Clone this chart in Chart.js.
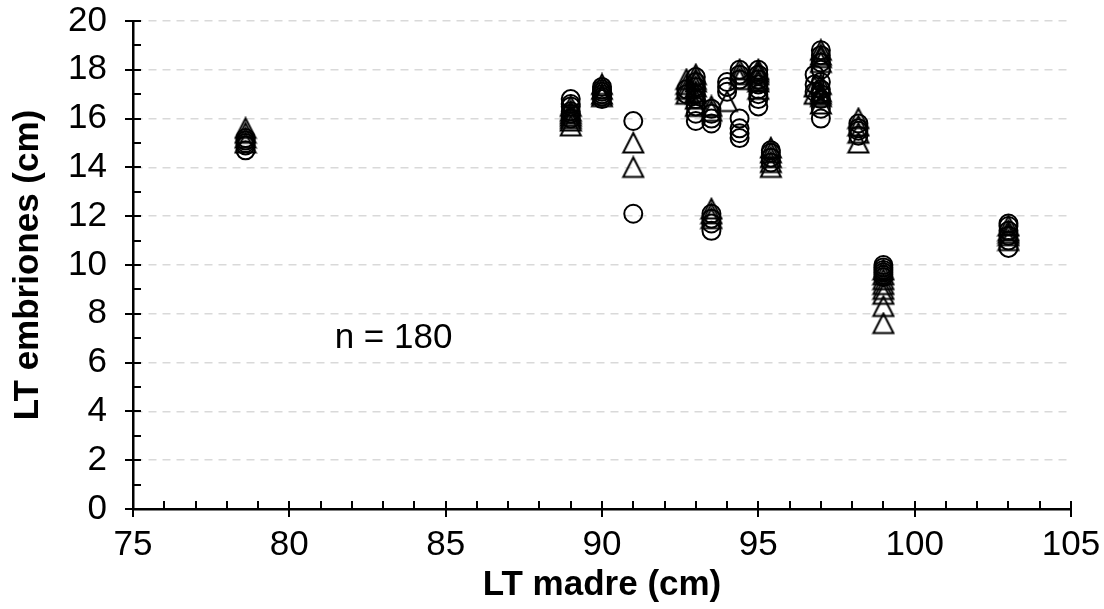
<!DOCTYPE html>
<html>
<head>
<meta charset="utf-8">
<script src="https://cdn.jsdelivr.net/npm/chart.js@4.4.0/dist/chart.umd.min.js"></script>
<style>
  html, body { margin: 0; padding: 0; background: #fff; }
</style>
</head>
<body>
<canvas id="chart" width="1104" height="609"></canvas>
<script>
// LT de la madre (cm) para cada grupo de embriones
const madreLT = [78.6, 89, 90, 91, 92.7, 93, 93.5, 94, 94.4, 95, 95.4, 96.8, 97, 98.2, 99, 103];

// LT de los embriones (cm), un grupo por madre: círculos
const embrionesCirculo = [
  [14.7, 14.9, 15.0, 15.1, 15.2],
  [16.0, 16.2, 16.3, 16.5, 16.6, 16.8],
  [16.8, 16.9, 17.0, 17.1, 17.2, 17.3],
  [15.9, 12.1],
  [17.0, 17.2],
  [15.9, 16.2, 16.5, 16.8, 17.0, 17.3, 17.5, 17.7],
  [15.8, 16.0, 16.2, 16.4, 11.4, 11.7, 11.9, 12.1],
  [17.1, 17.3, 17.5],
  [15.2, 15.4, 15.6, 16.0, 17.6, 17.8, 18.0],
  [16.5, 16.8, 17.0, 17.2, 17.4, 17.6, 17.8, 18.0],
  [14.2, 14.4, 14.6, 14.7],
  [17.1, 17.4, 17.8],
  [16.0, 16.4, 16.8, 17.0, 17.2, 17.5, 18.0, 18.3, 18.6, 18.8],
  [15.3, 15.5, 15.6, 15.8],
  [9.5, 9.6, 9.7, 9.8, 9.9, 10.0],
  [10.7, 11.0, 11.2, 11.4, 11.6, 11.7]
];

// LT de los embriones (cm), un grupo por madre: triángulos
const embrionesTriangulo = [
  [15.0, 15.2, 15.4, 15.6],
  [15.7, 15.9, 16.0, 16.1, 16.2, 16.3, 16.5],
  [16.9, 17.0, 17.2, 17.4],
  [15.0, 14.0],
  [17.0, 17.2, 17.4, 17.6],
  [16.5, 16.8, 17.0, 17.1, 17.3, 17.5, 17.6, 17.8],
  [16.3, 16.5, 11.9, 12.1, 12.3],
  [16.7],
  [17.6, 17.8, 18.0],
  [17.2, 17.5, 17.6, 17.8, 17.9, 18.0],
  [14.0, 14.2, 14.4, 14.6, 14.8],
  [17.0, 17.3],
  [16.6, 16.9, 17.0, 17.1, 17.4, 18.3, 18.5, 18.6, 18.8],
  [15.0, 15.4, 15.7, 16.0],
  [7.6, 8.3, 8.8, 9.0, 9.2, 9.4, 9.6, 9.8],
  [11.0, 11.2, 11.3, 11.4, 11.6]
];

const notaTexto = 'n = 180';
const notaX = 81.45;
const notaY = 7.0;

function toPoints(groups) {
  const pts = [];
  groups.forEach((group, i) => {
    group.forEach((v) => pts.push({ x: madreLT[i], y: v }));
  });
  return pts;
}

// open triangle marker, same footprint as the circles
const triangulo = document.createElement("canvas");
triangulo.width = 24;
triangulo.height = 24;
(function () {
  const c = triangulo.getContext("2d");
  c.strokeStyle = "#000";
  c.lineWidth = 2;
  c.lineJoin = "miter";
  c.beginPath();
  c.moveTo(12, 2);
  c.lineTo(22, 21.5);
  c.lineTo(2, 21.5);
  c.closePath();
  c.stroke();
})();

const FONT = "'Liberation Sans', Arial, sans-serif";
const FONT_SIZE = 35;

// axis tick marks: major ticks cross the axis, minor ones sit inside
const tickMarks = {
  id: "tickMarks",
  afterDraw(chart) {
    const { ctx, chartArea, scales: { x, y } } = chart;
    ctx.save();
    ctx.strokeStyle = "#000";
    ctx.lineWidth = 2;
    ctx.beginPath();
    for (let v = x.min; v <= x.max; v += 1) {
      const px = Math.round(x.getPixelForValue(v));
      ctx.moveTo(px, chartArea.bottom - 8);
      ctx.lineTo(px, chartArea.bottom + (v % 5 === 0 ? 8 : 0));
    }
    for (let v = y.min; v <= y.max; v += 1) {
      const py = Math.round(y.getPixelForValue(v));
      ctx.moveTo(chartArea.left + 8, py);
      ctx.lineTo(chartArea.left - (v % 2 === 0 ? 8 : 0), py);
    }
    ctx.stroke();
    ctx.restore();
  }
};

const sampleNote = {
  id: "sampleNote",
  afterDraw(chart) {
    const { ctx, scales: { x, y } } = chart;
    ctx.save();
    ctx.font = FONT_SIZE + "px " + FONT;
    ctx.fillStyle = "#000";
    ctx.textAlign = "left";
    ctx.textBaseline = "middle";
    ctx.fillText(notaTexto, x.getPixelForValue(notaX), y.getPixelForValue(notaY));
    ctx.restore();
  }
};

new Chart(document.getElementById("chart"), {
  type: "scatter",
  data: {
    datasets: [
      {
        label: "círculos",
        data: toPoints(embrionesCirculo),
        pointStyle: "circle",
        pointRadius: 9,
        borderWidth: 2,
        borderColor: "#000",
        backgroundColor: "rgba(0,0,0,0)"
      },
      {
        label: "triángulos",
        data: toPoints(embrionesTriangulo),
        pointStyle: triangulo,
        pointRadius: 9,
        borderColor: "#000",
        backgroundColor: "rgba(0,0,0,0)"
      }
    ]
  },
  options: {
    responsive: false,
    animation: false,
    layout: { padding: { top: 21, right: 33, left: 0, bottom: 0 } },
    plugins: {
      legend: { display: false },
      tooltip: { enabled: false }
    },
    scales: {
      x: {
        type: "linear",
        min: 75,
        max: 105,
        afterFit: (scale) => {
          scale.height = 100;
          scale.paddingLeft = 0;
          scale.paddingRight = 0;
        },
        ticks: {
          stepSize: 5,
          color: "#000",
          padding: 15,
          font: { family: FONT, size: FONT_SIZE }
        },
        grid: { display: false, drawTicks: false },
        border: { display: true, color: "#000", width: 2.5 },
        title: {
          display: true,
          text: "LT madre (cm)",
          color: "#000",
          padding: { top: 0, bottom: 3 },
          font: { family: FONT, size: FONT_SIZE, weight: "bold" }
        }
      },
      y: {
        min: 0,
        max: 20,
        afterFit: (scale) => {
          scale.width = 133;
          scale.paddingTop = 0;
          scale.paddingBottom = 0;
        },
        ticks: {
          stepSize: 2,
          color: "#000",
          padding: 26,
          font: { family: FONT, size: FONT_SIZE, lineHeight: 1 }
        },
        grid: { color: "#d9d9d9", lineWidth: 1.5, drawTicks: false },
        border: { display: true, color: "#000", width: 2.5, dash: [8, 6] },
        title: {
          display: true,
          text: "LT embriones (cm)",
          color: "#000",
          padding: { top: 7, bottom: 0 },
          font: { family: FONT, size: FONT_SIZE, weight: "bold" }
        }
      }
    }
  },
  plugins: [tickMarks, sampleNote]
});
</script>
</body>
</html>
